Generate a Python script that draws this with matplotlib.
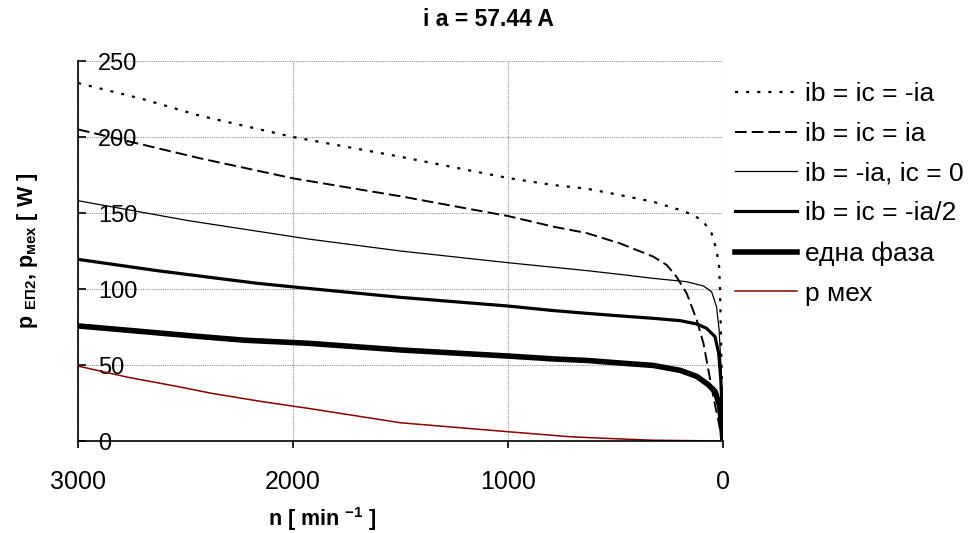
import matplotlib
matplotlib.use("Agg")
import matplotlib.pyplot as plt

plt.rcParams['font.family'] = ['Liberation Sans', 'DejaVu Sans']
plt.rcParams['mathtext.fontset'] = 'custom'
plt.rcParams['mathtext.rm'] = 'Liberation Sans'
plt.rcParams['mathtext.bf'] = 'Liberation Sans:bold'
plt.rcParams['mathtext.it'] = 'Liberation Sans:italic'

# ---------------- data ----------------
title = "i a = 57.44 A"
labels = ["ib = ic = -ia", "ib = ic = ia", "ib = -ia, ic = 0",
          "ib = ic = -ia/2", "една фаза", "p мех"]

n_s1 = [3000, 2700, 2433, 2000, 1500, 1000, 789, 634, 479, 324, 200, 138, 91, 53, 30, 18, 14, 10, 5, 0]
p_s1 = [235.5, 225, 214, 200, 187, 173, 168.4, 166, 161.8, 157.4, 152, 148.7, 144.3, 136.6, 125.7, 114.7, 100, 72, 36, 0]

n_s2 = [3000, 2700, 2433, 2000, 1500, 1000, 789, 634, 479, 324, 262, 216, 169, 122, 91, 68, 45, 22, 7, 0]
p_s2 = [205, 195, 186, 172.8, 161, 148, 141, 136.8, 130, 121.3, 115.8, 108, 97.2, 79.6, 64.3, 46.7, 29.2, 13.8, 2.6, 0]

n_s3 = [3000, 2488, 1930, 1500, 1000, 789, 634, 479, 324, 169, 91, 53, 30, 18, 10, 3, 0]
p_s3 = [158.1, 145, 132.9, 125, 117.3, 114.3, 112.1, 109.6, 107, 104.8, 102, 98.2, 88.3, 73, 51, 18.5, 0]

n_s4 = [3000, 2628, 2349, 2163, 1930, 1500, 1000, 789, 634, 479, 324, 200, 122, 76, 37, 20, 10, 3, 0]
p_s4 = [119.5, 112, 107, 103.7, 100.4, 94.5, 88.8, 85.8, 84, 82.3, 80.7, 79.2, 77, 74.1, 68.6, 57.6, 40, 14, 0]

n_s5 = [3000, 2690, 2457, 2225, 1930, 1500, 1000, 789, 634, 479, 324, 200, 122, 68, 37, 15, 3, 0]
p_s5 = [75.7, 71.9, 69, 66.3, 64.3, 59.9, 55.9, 54, 53, 51.3, 49.7, 46.5, 42.5, 37, 32.6, 22.8, 5.3, 0]

n_s6 = [3000, 2767, 2535, 2380, 2147, 1930, 1500, 1000, 711, 541, 324, 0]
p_s6 = [49.3, 41.9, 35.8, 31.4, 26, 21.5, 12, 6.1, 2.8, 1.7, 0.5, 0]

x_ticks = [3000, 2000, 1000, 0]
y_ticks = [0, 50, 100, 150, 200, 250]

# ---------------- figure ----------------
fig = plt.figure(figsize=(9.69, 5.33), dpi=100)
ax = fig.add_axes([78/969, 1-441/533, (723-78)/969, (441-61)/533])

ax.plot(n_s1, p_s1, color='black', lw=1.6, linestyle=(0, (1.4, 3.6)), label=labels[0])
ax.plot(n_s2, p_s2, color='black', lw=1.4, linestyle=(0, (6, 2.6)), label=labels[1])
ax.plot(n_s3, p_s3, color='black', lw=0.9, label=labels[2])
ax.plot(n_s4, p_s4, color='black', lw=2.3, label=labels[3])
ax.plot(n_s5, p_s5, color='black', lw=4.0, label=labels[4])
ax.plot(n_s6, p_s6, color='#8B0000', lw=1.1, label=labels[5])

ax.set_xlim(3000, 0)
ax.set_ylim(0, 250)
ax.set_xticks(x_ticks)
ax.set_yticks(y_ticks)

ax.grid(True, color='#909090', linestyle=(0, (1, 1)), linewidth=0.8)
ax.set_axisbelow(True)
for s in ['top', 'right']:
    ax.spines[s].set_visible(False)
for s in ['left', 'bottom']:
    ax.spines[s].set_linewidth(1.2)
    ax.spines[s].set_zorder(5)

ax.tick_params(axis='x', direction='out', length=5, width=1.2, pad=16, labelsize=18)
ax.tick_params(axis='y', direction='in', length=6, width=1.2, pad=-14.5, labelsize=17)
for lab in ax.get_yticklabels():
    lab.set_horizontalalignment('left')

fig.text(488/969, 1-20/533, title, ha='center', va='center', fontsize=16.5, fontweight='bold')
fig.text(322/969, 1-519/533, r'n [ min $^{\mathbf{-1}}$ ]', ha='center', va='center',
         fontsize=15.5, fontweight='bold')
fig.text(28/969, 1-251/533, r'p $_{\mathbf{ЕП2}}$, p$_{\mathbf{мех}}$ [ W ]', ha='center', va='center',
         rotation=90, fontsize=15.5, fontweight='bold')

leg = ax.legend(loc='upper left', bbox_to_anchor=(735/969, 1-82/533),
                bbox_transform=fig.transFigure, frameon=False, fontsize=19,
                handlelength=2.35, handletextpad=0.3, labelspacing=0.6, borderpad=0,
                borderaxespad=0)

fig.savefig('out.png', dpi=100)
